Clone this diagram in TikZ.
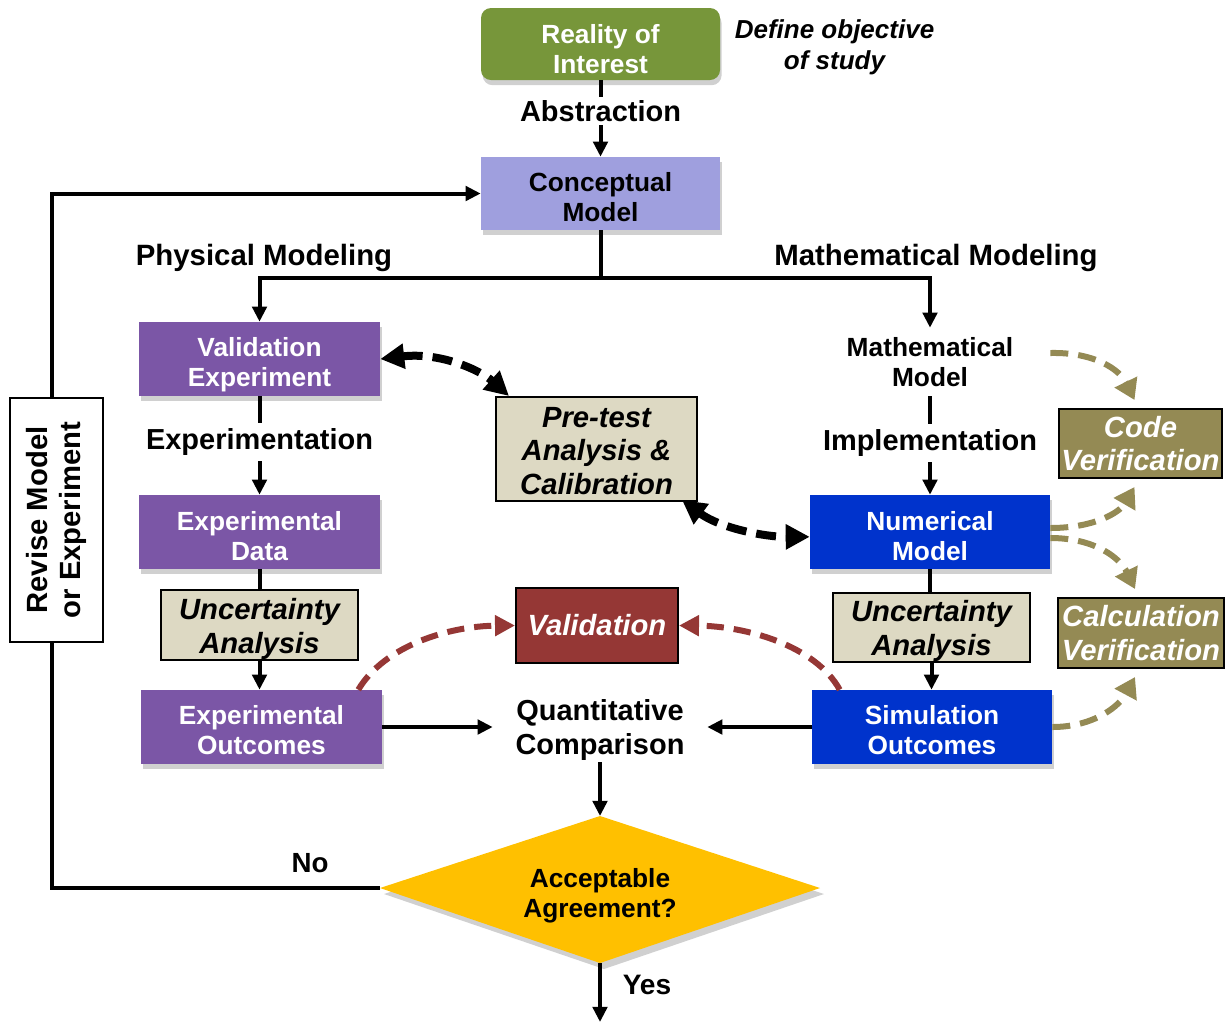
\documentclass[tikz,border=0pt]{standalone}
\usepackage{fontspec}
\setmainfont{Liberation Sans}
\usetikzlibrary{arrows.meta,shadows,calc}

\definecolor{realgreen}{HTML}{77963A}
\definecolor{lav}{HTML}{9F9FDE}
\definecolor{purp}{HTML}{7B56A6}
\definecolor{numblue}{HTML}{0033CC}
\definecolor{beige}{HTML}{DDD9C3}
\definecolor{valred}{HTML}{953735}
\definecolor{olive}{HTML}{948A54}
\definecolor{accyellow}{HTML}{FFC000}
\definecolor{shadowgray}{HTML}{D0D0D0}

\newcommand\boxfont{\fontsize{18.7}{21.3}\selectfont\bfseries}
\newcommand\lblfont{\fontsize{20.6}{24.2}\selectfont\bfseries}
\newcommand\itbfont{\fontsize{20.8}{23.8}\selectfont\bfseries\itshape}
\newcommand\objfont{\fontsize{18.5}{22}\selectfont\bfseries\itshape}
% raises the first line's height so that a block of lines sits lower in its box
\newcommand\lift[1]{\rule{0pt}{#1}}

\begin{document}
\begin{tikzpicture}[x=0.25mm,y=-0.25mm,
  box/.style={rectangle, inner sep=0pt, align=center, font=\boxfont, text=white,
    drop shadow={shadow xshift=0.4mm, shadow yshift=-1.3mm, fill=shadowgray, opacity=1}},
  stdbox/.style={box, minimum width=60.25mm, minimum height=18.5mm},
  uabox/.style={rectangle, draw=black, line width=0.5mm, fill=beige, inner sep=0pt,
    align=center, font=\itbfont, text=black},
  verbox/.style={rectangle, draw=black, line width=0.5mm, inner sep=0pt,
    align=center, font=\itbfont, text=white},
  lbl/.style={inner sep=0pt, align=center, font=\lblfont},
  headlbl/.style={inner sep=0pt, font=\fontsize{20.9}{24}\selectfont\bfseries},
  flow/.style={line width=1mm},
  flowarrow/.style={line width=1mm, -{Triangle[length=3.8mm,width=3.6mm]}},
  blkdash/.style={line width=2mm, dash pattern=on 5mm off 2.5mm,
    {Triangle[length=6mm,width=6mm]}-{Triangle[length=6mm,width=6mm]}},
  reddash/.style={line width=1.5mm, draw=valred, dash pattern=on 4.3mm off 2.5mm,
    -{Triangle[length=5mm,width=5mm]}},
  olivedash/.style={line width=1.5mm, draw=olive, dash pattern=on 4.5mm off 2.5mm,
    -{Triangle[length=5mm,width=6mm]}}
]
\useasboundingbox (0,0) rectangle (1225,1023);

% ---- top of the chart
\node[box, fill=realgreen, rounded corners=2.5mm, minimum width=59.75mm, minimum height=18mm]
  (real) at (600.5,44) {\lift{20.8pt}Reality of\\Interest};
\node[font=\objfont, align=center, inner sep=0pt] (obj) at (834.5,47) {Define objective\\of study};
\node[lbl, minimum height=7mm] (abst) at (600.5,111) {Abstraction};
\node[box, fill=lav, text=black, minimum width=59.75mm, minimum height=18.25mm]
  (concept) at (600.5,193.5) {\lift{18.6pt}Conceptual\\Model};

\draw[flow] (real.south) -- (abst.north);
\draw[flowarrow] (abst.south) -- (concept.north);

% ---- branch labels
\node[headlbl] (phys) at (264,258) {Physical Modeling};
\node[headlbl] (math) at (936,258) {Mathematical Modeling};
\coordinate (split) at (600.5,278);

% ---- physical branch
\node[stdbox, fill=purp] (valexp) at (259.5,359) {\lift{22.2pt}Validation\\Experiment};
\node[lbl, minimum height=9.5mm] (expt) at (259.5,442) {Experimentation};
\node[stdbox, fill=purp] (expdata) at (259.5,532) {\lift{19.3pt}Experimental\\Data};
\node[uabox, minimum width=49.25mm, minimum height=17.5mm] (ua1) at (259.5,625) {\lift{20.6pt}Uncertainty\\Analysis};
\node[stdbox, fill=purp] (expout) at (261.5,727) {\lift{17.9pt}Experimental\\Outcomes};

% ---- mathematical branch
\node[lbl, font=\boxfont, minimum width=60mm, minimum height=17mm] (mathmodel) at (930,362) {Mathematical\\Model};
\node[lbl, minimum height=9.5mm] (impl) at (930,443) {Implementation};
\node[stdbox, fill=numblue, minimum width=60mm] (numer) at (930,532) {\lift{19.3pt}Numerical\\Model};
\node[uabox, minimum width=49.25mm, minimum height=17.25mm] (ua2) at (931.5,627.5) {\lift{19.9pt}Uncertainty\\Analysis};
\node[stdbox, fill=numblue, minimum width=60mm] (simout) at (932,727) {\lift{17.9pt}Simulation\\Outcomes};

% ---- middle column
\node[uabox, minimum width=50.25mm, minimum height=26mm] (pretest) at (596.5,449) {\lift{17pt}Pre-test\\Analysis \&\\Calibration};
\node[verbox, fill=valred, minimum width=40.5mm, minimum height=18.75mm] (valid) at (597,625.5) {Validation};
\node[lbl, minimum width=53.5mm, minimum height=17.5mm] (quant) at (600,727) {\lift{19.1pt}Quantitative\\Comparison};

% ---- verification boxes
\node[verbox, fill=olive, minimum width=40.75mm, minimum height=17.25mm] (codev) at (1140.5,443.5) {Code\\Verification};
\node[verbox, fill=olive, minimum width=41.5mm, minimum height=17.5mm] (calcv) at (1141,633) {Calculation\\Verification};

% ---- solid flow
\draw[flow] (concept.south) -- (split);
\draw[flowarrow] (split) -| (valexp.north);
\draw[flowarrow] (split) -| (mathmodel.north);
\draw[flow] (valexp.south) -- (expt.north);
\draw[flowarrow] (expt.south) -- (expdata.north);
\draw[flow] (expdata.south) -- (ua1.north);
\draw[flowarrow] (ua1.south) -- (ua1.south |- expout.north);
\draw[flow] (mathmodel.south) -- (impl.north);
\draw[flowarrow] (impl.south) -- (numer.north);
\draw[flow] (numer.south) -- (numer.south |- ua2.north);
\draw[flowarrow] (ua2.south) -- (ua2.south |- simout.north);
\draw[flowarrow] (expout.east) -- (quant.west);
\draw[flowarrow] (simout.west) -- (quant.east);

% ---- decision
\coordinate (accT) at (600,816);
\coordinate (accR) at (820,888);
\coordinate (accB) at (600,963);
\coordinate (accL) at (380,888);
\fill[shadowgray] ([shift={(4,6)}]accT) -- ([shift={(4,6)}]accR) -- ([shift={(4,6)}]accB) -- ([shift={(4,6)}]accL) -- cycle;
\fill[accyellow] (accT) -- (accR) -- (accB) -- (accL) -- cycle;
\node[font=\boxfont, align=center, inner sep=0pt] (acc) at (600,892) {\lift{19.3pt}Acceptable\\Agreement?};
\draw[flowarrow] (quant.south) -- (accT);

\coordinate (done) at (600,1022);
\draw[flowarrow] (accB) -- (done);
\node[lbl, font=\fontsize{20}{24}\selectfont\bfseries] (yes) at (647,985) {Yes};

\coordinate (loop) at (52,888);
\draw[flowarrow] (accL) -- (loop) |- (concept.west);
\node[lbl, font=\fontsize{19.7}{24}\selectfont\bfseries] (no) at (310,863) {No};
\node[rectangle, draw=black, line width=0.35mm, fill=white, rotate=90, inner sep=0pt,
  minimum width=61mm, minimum height=23.25mm, align=center,
  font=\fontsize{20.8}{23.5}\selectfont\bfseries] (revise) at (56.5,520) {Revise Model\\or Experiment};

% ---- dashed links
\draw[blkdash] (valexp.east) .. controls (440,352) and (480,370) .. ([xshift=3.5mm]pretest.north west);
\draw[blkdash] ([xshift=-4mm,yshift=0.5mm]pretest.south east) .. controls (720,528) and (765,537) .. ([yshift=-1.2mm]numer.west);

\draw[reddash] ([xshift=-6mm]expout.north east) .. controls (385,645) and (450,626) .. (valid.west);
\draw[reddash] ([xshift=7mm]simout.north west) .. controls (815,645) and (745,626) .. (valid.east);

\draw[olivedash] ([yshift=2.25mm]mathmodel.east) .. controls (1095,352) and (1120,370) .. ([xshift=-1.5mm,yshift=2mm]codev.north);
\draw[olivedash] ([yshift=1mm]numer.east) .. controls (1095,528) and (1120,512) .. ([xshift=-1.5mm,yshift=-2mm]codev.south);
\draw[olivedash] ([yshift=-1.5mm]numer.east) .. controls (1095,538) and (1120,558) .. ([xshift=-1.5mm,yshift=2mm]calcv.north);
\draw[olivedash] (simout.east) .. controls (1095,727) and (1120,705) .. ([xshift=-1.5mm,yshift=-2mm]calcv.south);
\end{tikzpicture}
\end{document}
